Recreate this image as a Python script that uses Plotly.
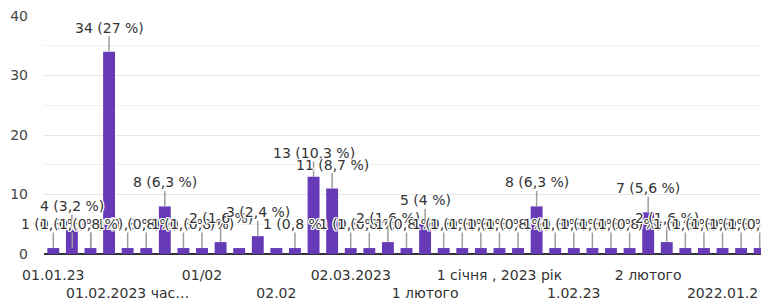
import plotly.graph_objects as go

categories = [
    "01.01.23", "01.01.2023", "01.02", "01.02.2023", "01.02.2023 час…",
    "01.02.23", "01.03.2023", "01.12.2022", "01/02", "01/02/2023",
    "02.01", "02.01.2023", "02.02", "02.02.2022", "02.02.2023",
    "02.02.23", "02.03.2023", "02.03.23", "03.02.2023", "1 березня",
    "1 лютого", "1 лютого 2023", "1 лютого 2023 року", "1 січня", "1 січня , 2023 рік",
    "1 січня 2023", "1.02.2023", "1.02.2023р", "1.02.23", "1.03.2023",
    "1/02/2023", "2 березня", "2 лютого", "2 лютого 2023", "2.02.2023",
    "2022.01.01", "2022.01.2", "2023.02.01", "2023.02.02",
]
counts = [
    1, 4, 1, 34, 1, 1, 8, 1, 1, 2,
    1, 3, 1, 1, 13, 11, 1, 1, 2, 1,
    5, 1, 1, 1, 1, 1, 8, 1, 1, 1,
    1, 1, 7, 2, 1, 1, 1, 1, 1,
]
tick_categories = ["01.01.23", "01.02.2023 час…", "01/02", "02.02", "02.03.2023",
                   "1 лютого", "1 січня , 2023 рік", "1.02.23", "2 лютого", "2022.01.2"]
y_ticks = [0, 10, 20, 30, 40]

total = sum(counts)

def pct_label(v):
    p = round(v / total * 100, 1)
    s = ("%.1f" % p).rstrip("0").rstrip(".").replace(".", ",")
    return f"{v} ({s} %)"

FONT = "DejaVu Sans"
fig = go.Figure()
fig.add_trace(go.Bar(
    x=categories, y=counts,
    marker=dict(color="#673ab7", line=dict(width=0)),
    hovertemplate="%{x}: %{y}<extra></extra>",
))

halo = ("white 1px 0 0, white -1px 0 0, white 0 1px 0, white 0 -1px 0, "
        "white 1px 1px 0, white -1px -1px 0, white 1px -1px 0, white -1px 1px 0")
for c, v in zip(categories, counts):
    fig.add_annotation(
        x=c, y=v, text=pct_label(v), showarrow=True, arrowhead=0,
        arrowwidth=1.5, arrowcolor="#9e9e9e", ax=0, ay=-24, standoff=0,
        font=dict(family=FONT, size=14, color="#333333", shadow=halo),
        borderpad=0,
    )

ticktext = [("<br>" + t) if i % 2 else t for i, t in enumerate(tick_categories)]

# the page body has an 8px default margin; compensate so the plot lands where the reference has it
fig.update_layout(
    width=761, height=296,
    margin=dict(l=36, r=0, t=8, b=50),
    paper_bgcolor="white", plot_bgcolor="white",
    showlegend=False,
    bargap=0.36,
    font=dict(family=FONT, size=14, color="#444444"),
    xaxis=dict(
        type="category", categoryorder="array", categoryarray=categories,
        range=[-0.5, len(categories) - 0.5], autorange=False,
        tickvals=tick_categories, ticktext=ticktext, tickangle=0,
        showgrid=False, ticks="", showline=False, zeroline=False,
        ticklabelstandoff=11,
        tickfont=dict(family=FONT, size=14, color="#333333"),
    ),
    yaxis=dict(
        range=[0, 40], tickvals=y_ticks, showgrid=True, gridcolor="#e6e6e6",
        gridwidth=1, zeroline=True, zerolinecolor="#333333", zerolinewidth=2,
        ticks="", ticklabelstandoff=15, ticklabeloverflow="allow",
        tickfont=dict(family=FONT, size=14, color="#444444"),
        minor=dict(dtick=5, showgrid=True, gridcolor="#f0f0f0", gridwidth=1),
    ),
)

fig.write_html("out.html")
